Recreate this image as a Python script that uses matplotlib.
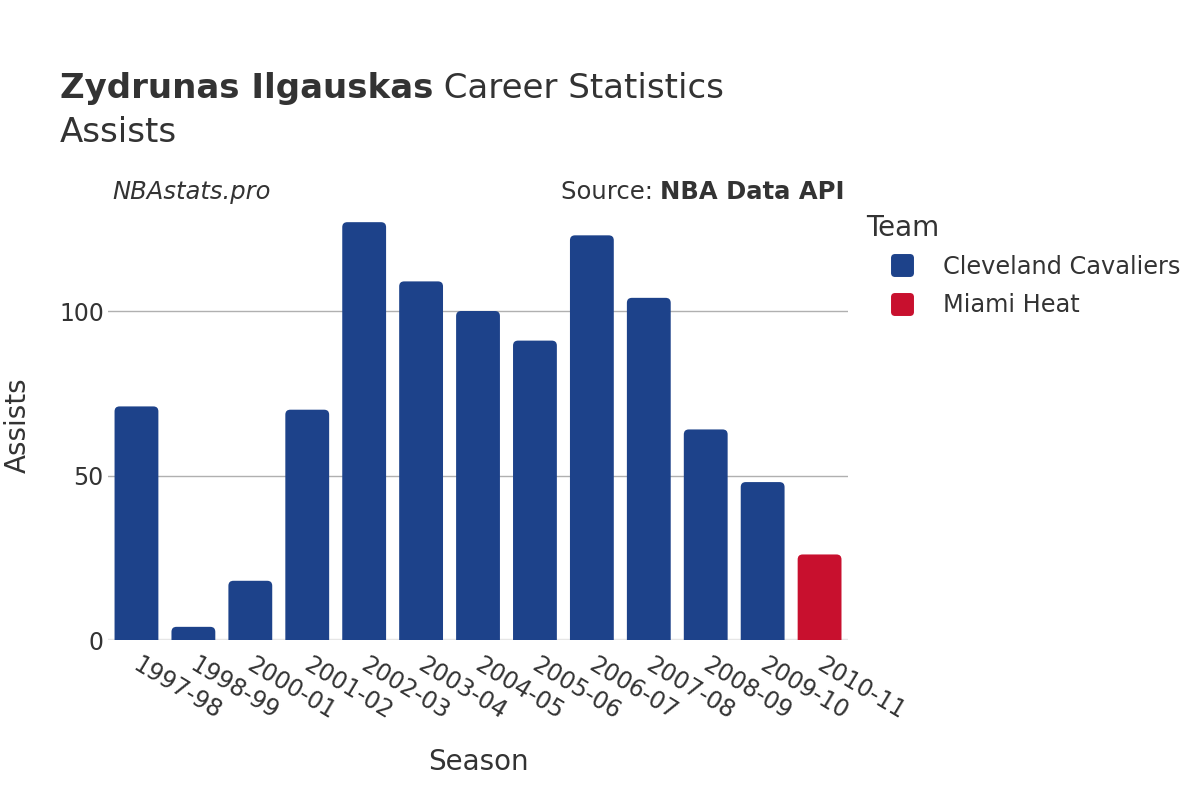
import matplotlib
matplotlib.use("Agg")
import matplotlib.pyplot as plt
import matplotlib.transforms as mtransforms
from matplotlib.patches import FancyBboxPatch
from matplotlib.lines import Line2D
from matplotlib.markers import MarkerStyle

seasons = ["1997-98", "1998-99", "2000-01", "2001-02", "2002-03", "2003-04", "2004-05",
           "2005-06", "2006-07", "2007-08", "2008-09", "2009-10", "2010-11"]
assists = [71, 4, 18, 70, 127, 109, 100, 91, 123, 104, 64, 48, 26]
teams = ["Cleveland Cavaliers"] * 12 + ["Miami Heat"]
team_colors = {"Cleveland Cavaliers": "#1d428a", "Miami Heat": "#c8102e"}
yticks = [0, 50, 100]

plt.rcParams['font.family'] = ['DejaVu Sans']
fig = plt.figure(figsize=(12, 8), dpi=100)
ax = fig.add_axes([0.09, 0.2, 0.6167, 0.5375])

ymax = 130.7
ax.set_xlim(-0.5, len(seasons) - 0.5)
ax.set_ylim(0, ymax)

for y in yticks[1:]:
    ax.axhline(y, color="#b0b0b0", lw=1, zorder=0)
ax.axhline(0, color="#e6e6e6", lw=2.5, zorder=0.5)

bw = 0.77
bars = ax.bar(range(len(seasons)), assists, width=bw,
              color=[team_colors[t] for t in teams])
ax_w_px = 0.6167 * 1200
ax_h_px = 0.5375 * 800
xu_per_px = len(seasons) / ax_w_px
yu_per_px = ymax / ax_h_px
aspect = yu_per_px / xu_per_px
r_px = 5
for b in bars:
    x0 = b.get_x(); w = b.get_width(); h = b.get_height()
    c = b.get_facecolor()
    b.remove()
    ext = r_px * 2 * yu_per_px
    p = FancyBboxPatch((x0, -ext), w, h + ext,
                       boxstyle=f"round,pad=0,rounding_size={r_px * xu_per_px}",
                       mutation_aspect=aspect, facecolor=c, edgecolor="none",
                       zorder=2, clip_on=True)
    ax.add_patch(p)

for s in ax.spines.values():
    s.set_visible(False)
ax.set_yticks(yticks)
ax.set_yticklabels([str(v) for v in yticks], fontsize=17, color="#333333")
ax.tick_params(axis="y", length=0, pad=3)
ax.set_xticks(range(len(seasons)))
ax.set_xticklabels(seasons, rotation=-31, ha="left", va="top",
                   rotation_mode="anchor", fontsize=17, color="#333333")
ax.tick_params(axis="x", length=0, pad=9)
offset = mtransforms.ScaledTranslation(5 / 100, 0, fig.dpi_scale_trans)
for lbl in ax.get_xticklabels():
    lbl.set_transform(lbl.get_transform() + offset)
ax.set_ylabel("Assists", fontsize=20, color="#333333", labelpad=19.5)
ax.set_xlabel("Season", fontsize=20, color="#333333", labelpad=17)

renderer = fig.canvas.get_renderer()
t1 = fig.text(0.05, 0.889, "Zydrunas Ilgauskas", fontsize=24.5, fontweight="bold",
              color="#333333", va="center")
bb = t1.get_window_extent(renderer)
fig.text(bb.x1 / 1200, 0.889, " Career Statistics", fontsize=24.5,
         color="#333333", va="center")
fig.text(0.05, 0.835, "Assists", fontsize=24.5, color="#333333", va="center")
fig.text(0.094, 0.76, "NBAstats.pro", fontsize=17.5, style="italic",
         color="#333333", va="center")
t2 = fig.text(0.704, 0.76, "NBA Data API", fontsize=17.5, fontweight="bold",
              color="#333333", va="center", ha="right")
bb2 = t2.get_window_extent(renderer)
fig.text(bb2.x0 / 1200, 0.76, "Source: ", fontsize=17.5, color="#333333",
         va="center", ha="right")

handles = [Line2D([0], [0], marker=MarkerStyle("s", joinstyle="round"),
                  linestyle="none", markersize=11, markeredgewidth=5,
                  markerfacecolor=team_colors[t], markeredgecolor=team_colors[t])
           for t in ["Cleveland Cavaliers", "Miami Heat"]]
leg = fig.legend(handles, ["Cleveland Cavaliers", "Miami Heat"], title="Team",
                 loc="upper left", bbox_to_anchor=(866 / 1200, 1 - 214 / 800),
                 frameon=False, borderpad=0, borderaxespad=0,
                 fontsize=17.3, title_fontsize=20, handlelength=3.0,
                 handletextpad=0.2, labelspacing=0.62, alignment="left")
leg._legend_box.sep = 9
for t in leg.get_texts():
    t.set_color("#333333")
leg.get_title().set_color("#333333")

fig.savefig("out.png", dpi=100)
